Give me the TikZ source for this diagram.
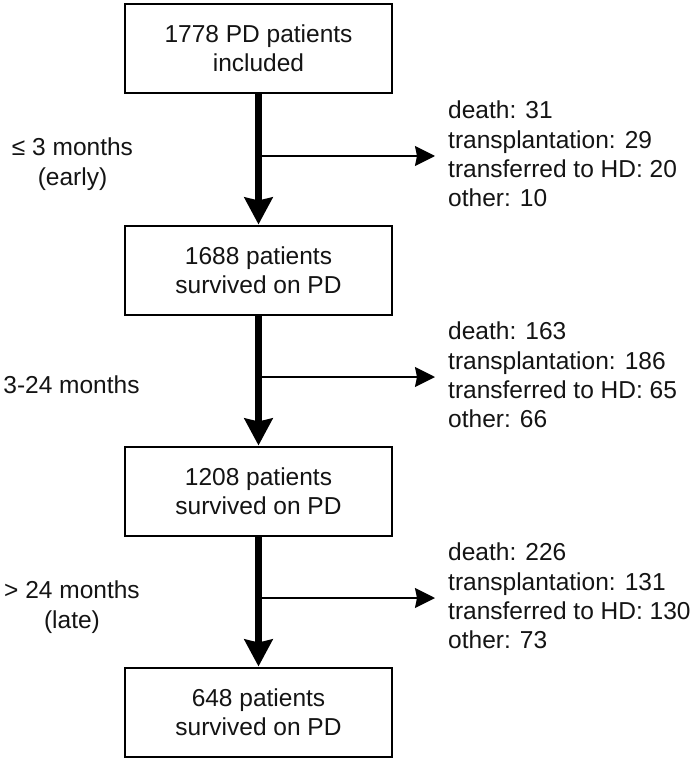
\documentclass[tikz,border=0pt]{standalone}
\usepackage{fontspec}
\setmainfont{Liberation Sans}
\usetikzlibrary{arrows.meta}
\begin{document}
\begin{tikzpicture}[x=1pt,y=1pt,
  txt/.style={font=\fontsize{24.5}{29.4}\selectfont, text=black!92},
  stagebox/.style={txt, draw, line width=2pt, minimum width=267pt, minimum height=89pt, align=center, inner sep=0pt},
  mainarrow/.style={line width=7pt, -{Stealth[width=28pt,length=27pt,inset=3pt]}},
  sidearrow/.style={line width=1.8pt, -{Stealth[width=20pt,length=20pt,inset=2pt]}},
  outcome/.style={txt, align=left, anchor=west, inner sep=0pt},
  period/.style={txt, align=center, inner sep=0pt}]
\useasboundingbox (0,0) rectangle (697,-762);
\fill[white] (0,0) rectangle (697,-762);

\node[stagebox] (b1) at (258.5,-48.5) {1778 PD patients\\included};
\node[stagebox] (b2) at (258.5,-270) {1688 patients\\survived on PD};
\node[stagebox] (b3) at (258.5,-491) {1208 patients\\survived on PD};
\node[stagebox] (b4) at (258.5,-712) {648 patients\\survived on PD};

\node[outcome] (e1) at (448,-154) {death: 31\\transplantation: 29\\transferred to HD: 20\\other: 10};
\node[outcome] (e2) at (448,-375) {death: 163\\transplantation: 186\\transferred to HD: 65\\other: 66};
\node[outcome] (e3) at (448,-596) {death: 226\\transplantation: 131\\transferred to HD: 130\\other: 73};

\node[period] (p1) at (72.5,-164) {≤ 3 months\\(early)};
\node[period] (p2) at (71.5,-385) {3-24 months};
\node[period] (p3) at (72,-607) {> 24 months\\(late)};

\draw[mainarrow] (b1.south) -- (b2.north);
\draw[mainarrow] (b2.south) -- (b3.north);
\draw[mainarrow] (b3.south) -- (b4.north);

\coordinate (j1) at (258.5,-156);
\coordinate (j2) at (258.5,-377);
\coordinate (j3) at (258.5,-598);
\coordinate (t1) at (435,-156);
\coordinate (t2) at (435,-377);
\coordinate (t3) at (435,-598);
\draw[sidearrow] (j1) -- (t1);
\draw[sidearrow] (j2) -- (t2);
\draw[sidearrow] (j3) -- (t3);
\end{tikzpicture}
\end{document}
